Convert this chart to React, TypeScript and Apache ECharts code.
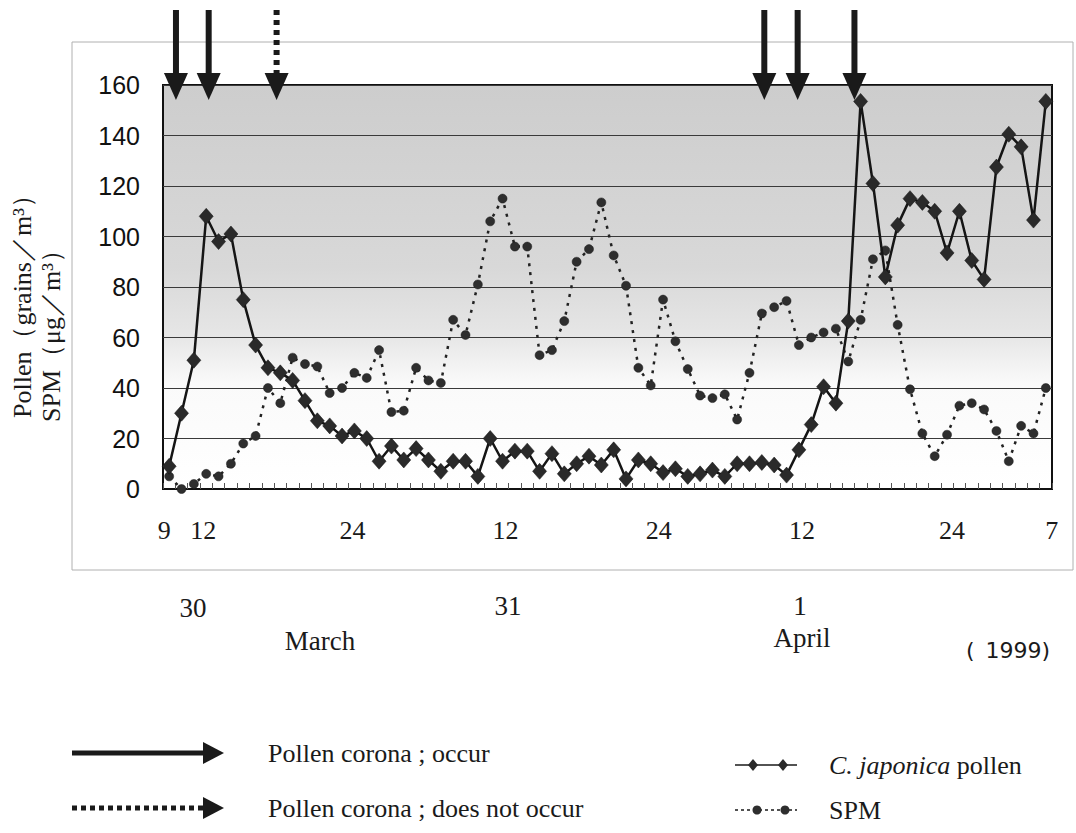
import React, { useEffect, useRef } from "react";
import * as echarts from "echarts";

// 72 hourly observations: 30 March 9h ... 2 April (hour of day labels)
const hourLabels = [
  "9", "10", "11", "12", "13", "14", "15", "16", "17", "18", "19", "20", "21", "22", "23", "24",
  "1", "2", "3", "4", "5", "6", "7", "8", "9", "10", "11", "12", "13", "14", "15", "16", "17", "18", "19", "20", "21", "22", "23", "24",
  "1", "2", "3", "4", "5", "6", "7", "8", "9", "10", "11", "12", "13", "14", "15", "16", "17", "18", "19", "20", "21", "22", "23", "24",
  "1", "2", "3", "4", "5", "6", "7", "8",
];
const shownTickIndex = [0, 3, 15, 27, 39, 51, 63, 71];
const shownTickText = ["9", "12", "24", "12", "24", "12", "24", "7"];

const pollen = [
  9, 30, 51, 108, 98, 101, 75, 57, 48, 46, 43, 35, 27, 25, 21, 23,
  20, 11, 17, 11.5, 16, 11.5, 7, 11, 11, 5, 20, 11, 15, 15, 7, 14, 6, 10, 13, 9.5, 15.5, 4, 11.5, 10,
  6.5, 8, 5, 6, 7.5, 5, 10, 10, 10.5, 9.5, 5.5, 15.5, 25.5, 40.5, 34, 66.5, 153.5, 121, 84, 104.5, 115, 113.5, 110, 93.5,
  110, 90.5, 83, 127.5, 140.5, 135.5, 106.5, 153.5,
];
const spm = [
  5, 0, 2, 6, 5, 10, 18, 21, 40, 34, 52, 49.5, 48.5, 38, 40, 46,
  44, 55, 30.5, 31, 48, 43, 42, 67, 61, 81, 106, 115, 96, 96, 53, 55, 66.5, 90, 95, 113.5, 92.5, 80.5, 48, 41,
  75, 58.5, 47.5, 37, 36, 37.5, 27.5, 46, 69.5, 72, 74.5, 57, 60, 62, 63.5, 50.5, 67, 91, 94.5, 65, 39.5, 22, 13, 21.5,
  33, 34, 31.5, 23, 11, 25, 22, 40,
];

// pollen corona observation times (hour index, fractional)
const coronaOccur = [0.55, 3.2, 48.2, 50.9, 55.5];
const coronaNotOccur = [8.7];

const yTicks = { min: 0, max: 160, interval: 20 };

const SERIF = "Liberation Serif";
const SANS = "Liberation Sans";
const INK = "#1a1a1a";
// small horizontal nudges of the printed hour labels (px)
const labelNudge = [-5, -3, -2, 3, 8, 3, 5, 6];

export default function App() {
  const ref = useRef<HTMLDivElement>(null);

  useEffect(() => {
    if (!ref.current) return;
    const chart = echarts.init(ref.current, undefined, { renderer: "svg" });

    const categories = hourLabels.map((h, i) => `${i}-${h}`);
    const tickMap: Record<number, number> = {};
    shownTickIndex.forEach((idx, k) => (tickMap[idx] = k));
    const rich: Record<string, any> = {};
    labelNudge.forEach((n, k) => {
      rich["t" + k] = {
        fontFamily: SERIF,
        fontSize: 26,
        color: INK,
        padding: n >= 0 ? [0, 0, 0, 2 * n] : [0, -2 * n, 0, 0],
      };
    });

    const arrowData = [
      ...coronaOccur.map((v) => [Math.floor(v), yTicks.max, v - Math.floor(v), 0]),
      ...coronaNotOccur.map((v) => [Math.floor(v), yTicks.max, v - Math.floor(v), 1]),
    ];

    const txt = (
      text: string,
      x: number,
      y: number,
      size: number,
      family: string,
      align = "center",
      extra: any = {},
      rotation = 0
    ) => ({
      type: "text",
      x,
      y,
      rotation,
      silent: true,
      style: {
        text,
        fontSize: size,
        fontFamily: family,
        fill: INK,
        align,
        textAlign: align,
        verticalAlign: "middle",
        textVerticalAlign: "middle",
        ...extra,
      },
    });

    const option: any = {
      animation: false,
      backgroundColor: "#ffffff",
      textStyle: { fontFamily: SERIF },
      grid: {
        left: 163,
        top: 85,
        width: 889,
        height: 404,
        show: true,
        backgroundColor: new echarts.graphic.LinearGradient(0, 0, 0, 1, [
          { offset: 0, color: "#cdcdcd" },
          { offset: 0.45, color: "#d8d8d8" },
          { offset: 0.62, color: "#e6e6e6" },
          { offset: 0.74, color: "#fafafa" },
          { offset: 1, color: "#ffffff" },
        ]),
        borderColor: "#111",
        borderWidth: 2,
      },
      xAxis: {
        type: "category",
        data: categories,
        boundaryGap: true,
        axisLine: { show: true, lineStyle: { color: "#111", width: 2 } },
        axisTick: { show: true, inside: true, length: 6, interval: 0, lineStyle: { color: "#555", width: 1 } },
        axisLabel: {
          interval: 0,
          margin: 28,
          fontSize: 26,
          fontFamily: SERIF,
          color: INK,
          formatter: (_v: string, i: number) =>
            tickMap[i] !== undefined ? `{t${tickMap[i]}|${shownTickText[tickMap[i]]}}` : "",
          rich,
        },
        splitLine: { show: false },
      },
      yAxis: {
        type: "value",
        min: yTicks.min,
        max: yTicks.max,
        interval: yTicks.interval,
        axisLine: { show: false },
        axisTick: { show: false },
        axisLabel: { fontSize: 25, fontFamily: SANS, color: "#111", margin: 23 },
        splitLine: { show: true, lineStyle: { color: "#3a3a3a", width: 1 } },
      },
      series: [
        {
          name: "SPM",
          type: "line",
          data: spm,
          symbol: "circle",
          symbolSize: 9,
          itemStyle: { color: "#2e2e2e", borderColor: "#1a1a1a", borderWidth: 0.5 },
          lineStyle: { color: "#222", width: 2.5, type: [3, 6] },
          z: 2,
        },
        {
          name: "C. japonica pollen",
          type: "line",
          data: pollen,
          symbol: "diamond",
          symbolSize: [14, 16],
          itemStyle: { color: "#2a2a2a", borderColor: "#111", borderWidth: 0.5 },
          lineStyle: { color: "#151515", width: 2.5 },
          z: 3,
        },
        {
          name: "Pollen corona",
          type: "custom",
          clip: false,
          silent: true,
          z: 10,
          data: arrowData,
          encode: { x: 0, y: 1 },
          renderItem: (_p: any, api: any) => {
            const i = api.value(0);
            const frac = api.value(2);
            const dashed = api.value(3) === 1;
            const pt = api.coord([i, yTicks.max]);
            const bw = api.size([1, 0])[0];
            const x = pt[0] + frac * bw;
            const top = pt[1];
            return {
              type: "group",
              children: [
                {
                  type: "line",
                  shape: { x1: x, y1: top - 75, x2: x, y2: top - 11 },
                  style: {
                    stroke: INK,
                    lineWidth: 6,
                    lineDash: dashed ? [5, 5] : null,
                  },
                },
                {
                  type: "polygon",
                  shape: { points: [[x - 12, top - 12], [x + 12, top - 12], [x, top + 15]] },
                  style: { fill: INK },
                },
              ],
            };
          },
        },
      ],
      graphic: [
        {
          type: "rect",
          z: -10,
          silent: true,
          shape: { x: 72, y: 42, width: 1001, height: 528 },
          style: { fill: "none", stroke: "#b0b0b0", lineWidth: 1 },
        },
        // y-axis title
        txt("Pollen（grains／m³）", 22, 418, 26, SERIF, "left", {}, Math.PI / 2),
        txt("SPM（μg／m³）", 51, 422, 26, SERIF, "left", {}, Math.PI / 2),
        // dates
        txt("30", 193, 608, 27, SERIF),
        txt("31", 508, 606, 27, SERIF),
        txt("1", 800, 606, 27, SERIF),
        txt("March", 320, 641, 27, SERIF),
        txt("April", 802, 638, 27, SERIF),
        txt("(\u20021999)", 1008, 650, 22, "DejaVu Sans"),
        // legend: corona arrows
        {
          type: "line",
          silent: true,
          shape: { x1: 72, y1: 753, x2: 205, y2: 753 },
          style: { stroke: INK, lineWidth: 5 },
        },
        {
          type: "polygon",
          silent: true,
          shape: { points: [[203, 742], [224, 753], [203, 764]] },
          style: { fill: INK },
        },
        {
          type: "line",
          silent: true,
          shape: { x1: 72, y1: 808, x2: 205, y2: 808 },
          style: { stroke: INK, lineWidth: 5, lineDash: [5, 4] },
        },
        {
          type: "polygon",
          silent: true,
          shape: { points: [[203, 797], [224, 808], [203, 819]] },
          style: { fill: INK },
        },
        txt("Pollen corona ; occur", 268, 753, 26, SERIF, "left"),
        txt("Pollen corona ; does not occur", 268, 808, 26, SERIF, "left"),
        // legend: series
        {
          type: "line",
          silent: true,
          shape: { x1: 735, y1: 765, x2: 797, y2: 765 },
          style: { stroke: INK, lineWidth: 1.5 },
        },
        {
          type: "polygon",
          silent: true,
          shape: { points: [[753, 759], [758, 765], [753, 771], [748, 765]] },
          style: { fill: "#2a2a2a" },
        },
        {
          type: "polygon",
          silent: true,
          shape: { points: [[783, 759], [788, 765], [783, 771], [778, 765]] },
          style: { fill: "#2a2a2a" },
        },
        {
          type: "line",
          silent: true,
          shape: { x1: 735, y1: 810, x2: 797, y2: 810 },
          style: { stroke: INK, lineWidth: 1.5, lineDash: [3, 3] },
        },
        {
          type: "circle",
          silent: true,
          shape: { cx: 757, cy: 810, r: 4.5 },
          style: { fill: "#2e2e2e" },
        },
        {
          type: "circle",
          silent: true,
          shape: { cx: 785, cy: 810, r: 4.5 },
          style: { fill: "#2e2e2e" },
        },
        {
          type: "text",
          x: 829,
          y: 765,
          silent: true,
          style: {
            text: "{i|C. japonica} pollen",
            fontSize: 26,
            fontFamily: SERIF,
            fill: INK,
            align: "left",
            textAlign: "left",
            verticalAlign: "middle",
            textVerticalAlign: "middle",
            rich: {
              i: { fontStyle: "italic", fontSize: 26, fontFamily: SERIF, fill: INK, color: INK },
            },
          },
        },
        txt("SPM", 829, 810, 26, SERIF, "left"),
      ],
    };

    chart.setOption(option);
    return () => chart.dispose();
  }, []);

  return (
    <div
      ref={ref}
      style={{ position: "fixed", left: 0, top: 0, width: 1076, height: 833, background: "#fff" }}
    />
  );
}
